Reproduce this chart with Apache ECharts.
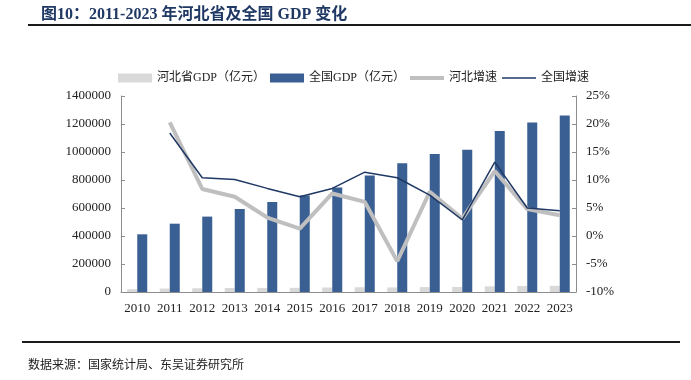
<!DOCTYPE html>
<html><head><meta charset="utf-8">
<script src="https://cdn.jsdelivr.net/npm/echarts@6/dist/echarts.min.js"></script>
<style>html,body{margin:0;padding:0;background:#fff}#c{width:691px;height:380px}</style>
</head><body><div id="c"></div>
<script>
const years = ['2010','2011','2012','2013','2014','2015','2016','2017','2018','2019','2020','2021','2022','2023'];
const hebeiGDP = [20394,24516,26575,28442,29421,29806,32070,34016,32495,35105,36207,40391,42370,43944];
const nationalGDP = [412119,487940,538580,592963,643563,688858,746395,832036,919281,986515,1015986,1149237,1210207,1260582];
const hebeiGrowth = [null,20.3,8.4,7.0,3.3,1.3,7.6,6.1,-4.5,7.9,3.1,11.6,4.8,3.7];
const nationalGrowth = [null,18.4,10.4,10.1,8.5,7.0,8.5,11.4,10.4,7.3,2.9,13.2,5.0,4.5];
const leftTicks = {min:0,max:1400000,interval:200000};
const rightTicks = {min:-10,max:25,interval:5};

const serif = '"Liberation Serif","DejaVu Serif","Noto Sans CJK SC",serif';
const axisColor = '#8c8c8c';
const chart = echarts.init(document.getElementById('c'));
chart.setOption({
  animation:false,
  title:{text:'图10：2011-2023 年河北省及全国 GDP 变化',left:36,top:2,
    textStyle:{fontFamily:serif,fontSize:16,fontWeight:'bold',color:'#1f3864'}},
  graphic:[
    {type:'line',shape:{x1:28,y1:25,x2:691,y2:25},style:{stroke:'#1a1a1a',lineWidth:2}},
    {type:'line',shape:{x1:22,y1:342,x2:680,y2:342},style:{stroke:'#1a1a1a',lineWidth:2}},
    {type:'text',left:28,top:360,style:{text:'数据来源：国家统计局、东吴证券研究所',fontFamily:serif,fontSize:12,fill:'#222'}}
  ],
  legend:{left:113,top:67,itemWidth:34,itemHeight:9,itemGap:5,symbolKeepAspect:true,
    textStyle:{fontFamily:serif,fontSize:12,color:'#222'},
    data:[{name:'河北省GDP（亿元）',icon:'rect'},{name:'全国GDP（亿元）',icon:'rect'},
          {name:'河北增速',icon:'path://M0,0H34V4H0Z'},{name:'全国增速',icon:'path://M0,0H34V1.5H0Z'}]},
  grid:{left:121,right:115,top:96,bottom:88},
  xAxis:{type:'category',data:years,
    axisLine:{lineStyle:{color:axisColor}},
    axisTick:{inside:true,length:3,lineStyle:{color:axisColor}},
    axisLabel:{fontFamily:serif,fontSize:13,color:'#222',margin:10,interval:0}},
  yAxis:[
    {type:'value',min:leftTicks.min,max:leftTicks.max,interval:leftTicks.interval,
     splitLine:{show:false},axisLine:{show:true,lineStyle:{color:axisColor}},
     axisTick:{show:true,inside:true,length:4,lineStyle:{color:axisColor}},
     axisLabel:{fontFamily:serif,fontSize:13,color:'#222',margin:10,formatter:function(v){return String(v);}}},
    {type:'value',min:rightTicks.min,max:rightTicks.max,interval:rightTicks.interval,
     splitLine:{show:false},axisLine:{show:true,lineStyle:{color:axisColor}},
     axisTick:{show:true,inside:true,length:4,lineStyle:{color:axisColor}},
     axisLabel:{fontFamily:serif,fontSize:13,color:'#222',margin:10,formatter:'{value}%'}}
  ],
  series:[
    {name:'河北省GDP（亿元）',type:'bar',data:hebeiGDP,barWidth:10,barGap:'0%',itemStyle:{color:'#d9d9d9'}},
    {name:'全国GDP（亿元）',type:'bar',data:nationalGDP,barWidth:10,barGap:'0%',itemStyle:{color:'#3a5f93'}},
    {name:'河北增速',type:'line',yAxisIndex:1,data:hebeiGrowth,symbol:'none',showSymbol:false,
     lineStyle:{color:'#bfbfbf',width:4},itemStyle:{color:'#bfbfbf'}},
    {name:'全国增速',type:'line',yAxisIndex:1,data:nationalGrowth,symbol:'none',showSymbol:false,
     lineStyle:{color:'#1f3864',width:1.5},itemStyle:{color:'#1f3864'}}
  ]
});
</script></body></html>
